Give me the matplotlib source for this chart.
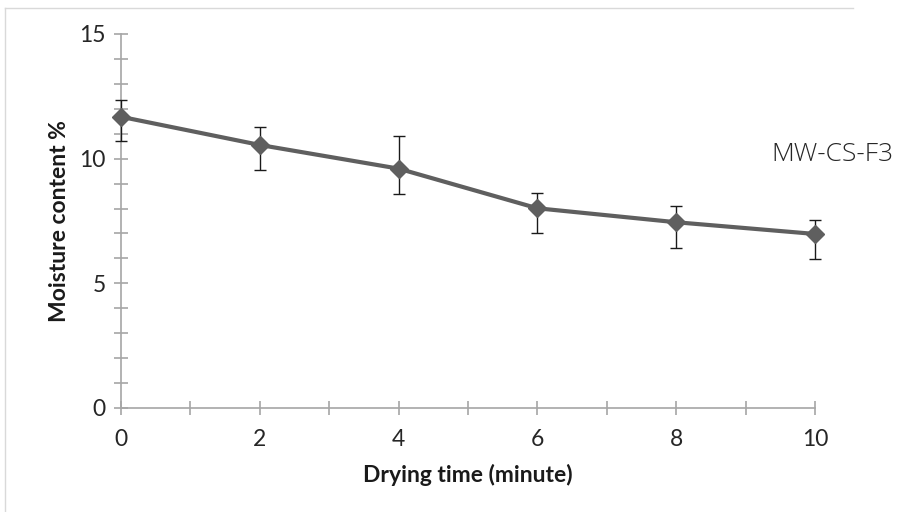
import matplotlib
matplotlib.use('Agg')
import matplotlib.pyplot as plt
from matplotlib.ticker import MultipleLocator

# Moisture content over drying time (MW-CS-F3)
drying_time = [0, 2, 4, 6, 8, 10]
moisture = [11.68, 10.55, 9.6, 8.01, 7.45, 6.98]
err_upper = [0.66, 0.73, 1.32, 0.63, 0.65, 0.55]
err_lower = [0.97, 1.0, 1.02, 1.0, 1.02, 1.01]

line_color = '#5f5f5f'
axis_color = '#a6a6a6'

fig = plt.figure(figsize=(9.05, 5.12), dpi=100)
ax = fig.add_axes([121 / 905, 104 / 512, 694 / 905, 374 / 512])

eb = ax.errorbar(drying_time, moisture, yerr=[err_lower, err_upper],
                 color=line_color, ecolor='#1a1a1a', elinewidth=1.0, capsize=4.5,
                 capthick=1.0, lw=3.0, marker='D', markersize=9,
                 markerfacecolor=line_color, markeredgecolor=line_color, zorder=3)
for art in eb.get_children():
    art.set_clip_on(False)

ax.set_xlim(0, 10)
ax.set_ylim(0, 15)
ax.xaxis.set_major_locator(MultipleLocator(2))
ax.xaxis.set_minor_locator(MultipleLocator(1))
ax.yaxis.set_major_locator(MultipleLocator(5))
ax.yaxis.set_minor_locator(MultipleLocator(1))

for side in ['top', 'right']:
    ax.spines[side].set_visible(False)
for side in ['left', 'bottom']:
    ax.spines[side].set_color(axis_color)
    ax.spines[side].set_linewidth(1.2)

ax.tick_params(which='both', direction='inout', color=axis_color, width=1.2,
               length=10, labelsize=16.5, labelcolor='#262626')
ax.tick_params(axis='x', pad=10)
ax.tick_params(axis='y', pad=6)
for lbl in ax.get_xticklabels() + ax.get_yticklabels():
    lbl.set_family('Lato')

ax.set_xlabel('Drying time (minute)', fontsize=16.5, fontweight='bold',
              family='Lato', color='#1a1a1a', labelpad=10)
ax.set_ylabel('Moisture content %', fontsize=16.5, fontweight='bold',
              family='Lato', color='#1a1a1a', labelpad=7)

ax.text(9.37, 10.15, 'MW-CS-F3', fontsize=19, family='Open Sans',
        fontweight='light', color='#262626', ha='left', va='center')

# outer chart frame (top and left edges visible)
fig.add_artist(plt.Line2D([5 / 905, 853 / 905], [1 - 8 / 512, 1 - 8 / 512],
                          color='#d9d9d9', lw=1.0))
fig.add_artist(plt.Line2D([5 / 905, 5 / 905], [1 - 8 / 512, 0],
                          color='#d9d9d9', lw=1.0))

fig.savefig('out.png', dpi=100)
